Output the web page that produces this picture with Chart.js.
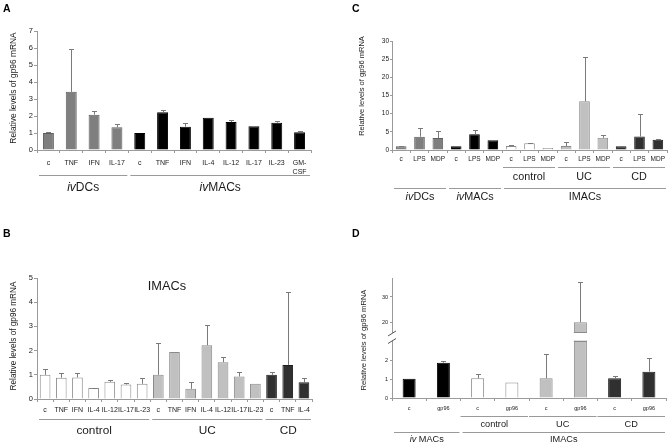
<!DOCTYPE html>
<html>
<head>
<meta charset="utf-8">
<script src="https://cdn.jsdelivr.net/npm/chart.js@4.4.1/dist/chart.umd.min.js"></script>
<style>
html,body{margin:0;padding:0;background:#fff;}
#wrap{position:relative;width:670px;height:445px;overflow:hidden;background:#fff;}
canvas{position:absolute;display:block;}
</style>
</head>
<body>
<div id="wrap">
<canvas id="cA" width="335" height="225" style="left:0;top:0"></canvas>
<canvas id="cC" width="335" height="225" style="left:335px;top:0"></canvas>
<canvas id="cB" width="335" height="220" style="left:0;top:225px"></canvas>
<canvas id="cD" width="335" height="220" style="left:335px;top:225px"></canvas>
</div>
<script>
// ================= DATA =================
// Panel A
const A_ivDCs_labels = ['c', 'TNF', 'IFN', 'IL-17'];
const A_ivDCs_values = [1.0, 3.42, 2.08, 1.34];
const A_ivDCs_err    = [0.06, 2.52, 0.22, 0.17];
const A_ivMACs_labels = ['c', 'TNF', 'IFN', 'IL-4', 'IL-12', 'IL-17', 'IL-23', ['GM-', 'CSF']];
const A_ivMACs_values = [1.0, 2.22, 1.37, 1.9, 1.64, 1.39, 1.6, 1.05];
const A_ivMACs_err    = [0, 0.13, 0.22, 0, 0.12, 0.03, 0.12, 0.08];
const A_yTicks = [0, 1, 2, 3, 4, 5, 6, 7];

// Panel C
const C_cat_labels = ['c', 'LPS', 'MDP'];
const C_ivDCs_values   = [1.0, 3.65, 3.3];
const C_ivDCs_err      = [0.1, 2.45, 2.05];
const C_ivMACs_values  = [1.0, 4.35, 2.7];
const C_ivMACs_err     = [0, 1.2, 0.15];
const C_control_values = [1.1, 1.85, 0.55];
const C_control_err    = [0.25, 0.2, 0];
const C_UC_values      = [1.1, 13.4, 3.35];
const C_UC_err         = [1.15, 12.2, 0.65];
const C_CD_values      = [1.0, 3.7, 2.8];
const C_CD_err         = [0.1, 6.3, 0.2];
const C_yTicks = [0, 5, 10, 15, 20, 25, 30];

// Panel B (IMACs)
const B_control_labels = ['c', 'TNF', 'IFN', 'IL-4', 'IL-12', 'IL-17', 'IL-23'];
const B_control_values = [1.0, 0.88, 0.89, 0.45, 0.71, 0.6, 0.63];
const B_control_err    = [0.25, 0.18, 0.2, 0.02, 0.06, 0.07, 0.22];
const B_UC_labels = ['c', 'TNF', 'IFN', 'IL-4', 'IL-12', 'IL-17', 'IL-23'];
const B_UC_values = [1.0, 1.94, 0.42, 2.22, 1.52, 0.93, 0.63];
const B_UC_err    = [1.3, 0, 0.3, 0.82, 0.23, 0.2, 0];
const B_CD_labels = ['c', 'TNF', 'IL-4'];
const B_CD_values = [1.0, 1.41, 0.69];
const B_CD_err    = [0.13, 3.0, 0.17];
const B_yTicks = [0, 1, 2, 3, 4, 5];

// Panel D
const D_cat_labels = ['c', 'gp96'];
const D_ivMACs_values  = [1.04, 1.9];
const D_ivMACs_err     = [0, 0.1];
const D_control_values = [1.06, 0.83];
const D_control_err    = [0.24, 0];
const D_UC_values      = [1.06, 20];
const D_UC_err         = [1.3, 16];
const D_CD_values      = [1.06, 1.42];
const D_CD_err         = [0.14, 0.73];
const D_yTicks = [0, 1, 2, 20, 30];
// broken axis: lower segment 0..D_lowMax, upper segment D_highMin..D_max
const D_lowMax = 3.1, D_highMin = 15.8, D_max = 37.5;

// ================= STYLE =================
const F = '"Liberation Sans", Arial, Helvetica, sans-serif';
const AX = '#9a9a9a';
const ERR = '#7a7a7a';
const TXT = '#1a1a1a';
const STY = {
  gray:  {bg: '#7f7f7f', bd: '#5e5e5e'},
  black: {bg: '#000000', bd: '#000000'},
  white: {bg: '#ffffff', bd: '#8a8a8a'},
  light: {bg: '#c0c0c0', bd: '#8a8a8a'},
  dark:  {bg: '#303030', bd: '#1e1e1e'}
};

// ================= BROKEN SCALE (panel D) =================
const D_FL = 0.479, D_FH = 0.542;
function dFrac(v) {
  if (v <= D_lowMax) return (v / D_lowMax) * D_FL;
  if (v <= D_highMin) return D_FL + (v - D_lowMax) / (D_highMin - D_lowMax) * (D_FH - D_FL);
  return D_FH + (v - D_highMin) / (D_max - D_highMin) * (1 - D_FH);
}
function dInv(f) {
  if (f <= D_FL) return f / D_FL * D_lowMax;
  if (f <= D_FH) return D_lowMax + (f - D_FL) / (D_FH - D_FL) * (D_highMin - D_lowMax);
  return D_highMin + (f - D_FH) / (1 - D_FH) * (D_max - D_highMin);
}
class BrokenScale extends Chart.LinearScale {
  buildTicks() { return D_yTicks.map(v => ({value: v})); }
  getPixelForValue(v) { return this.bottom - dFrac(v) * (this.bottom - this.top); }
  getValueForPixel(p) { return dInv((this.bottom - p) / (this.bottom - this.top)); }
}
BrokenScale.id = 'broken';
BrokenScale.defaults = Chart.LinearScale.defaults;
Chart.register(BrokenScale);

// ================= HELPERS =================
function drawMixed(c, parts, cx, cy, size) {
  let total = 0;
  const ws = parts.map(p => {
    c.font = (p[1] ? 'italic ' : '') + size + 'px ' + F;
    const w = c.measureText(p[0]).width; total += w; return w;
  });
  let x = cx - total / 2;
  c.textAlign = 'left'; c.textBaseline = 'middle'; c.fillStyle = TXT;
  parts.forEach((p, i) => {
    c.font = (p[1] ? 'italic ' : '') + size + 'px ' + F;
    c.fillText(p[0], x, cy); x += ws[i];
  });
}

function buildPanel(id, P) {
  const canvas = document.getElementById(id);
  const W = canvas.width, H = canvas.height;
  const labels = [], values = [], errs = [], bg = [], bd = [];
  P.series.forEach(s => {
    s.labels.forEach((l, i) => {
      labels.push(l); values.push(s.values[i]); errs.push(s.err[i]);
      bg.push(STY[s.style].bg); bd.push(STY[s.style].bd);
    });
  });
  const extras = {
    id: 'extras_' + id,
    afterDatasetsDraw(chart) {
      const c = chart.ctx, xs = chart.scales.x, ys = chart.scales.y;
      const meta = chart.getDatasetMeta(0);
      c.save();
      if (P.broken) {
        const yTop = ys.getPixelForValue(D_highMin), yBot = ys.getPixelForValue(D_lowMax);
        c.fillStyle = '#ffffff';
        c.fillRect(ys.right - 6, yTop, xs.right - ys.right + 6, yBot - yTop);
        values.forEach((v, i) => {
          if (v > D_highMin) {
            const b = meta.data[i];
            c.strokeStyle = bd[i]; c.lineWidth = 1;
            c.beginPath();
            c.moveTo(b.x - b.width / 2, Math.round(yTop) - 0.5); c.lineTo(b.x + b.width / 2, Math.round(yTop) - 0.5);
            c.moveTo(b.x - b.width / 2, Math.round(yBot) + 0.5); c.lineTo(b.x + b.width / 2, Math.round(yBot) + 0.5);
            c.stroke();
          }
        });
        const ax = ys.right;
        c.strokeStyle = '#555'; c.lineWidth = 1;
        c.beginPath();
        c.moveTo(ax - 4, yTop + 3); c.lineTo(ax + 4, yTop - 2);
        c.moveTo(ax - 4, yBot + 3); c.lineTo(ax + 4, yBot - 2);
        c.stroke();
      }
      c.strokeStyle = ERR; c.lineWidth = 1;
      values.forEach((v, i) => {
        const e = errs[i];
        if (!e) return;
        const b = meta.data[i];
        const x = Math.round(b.x) + 0.5;
        const y0 = ys.getPixelForValue(v);
        const y1 = Math.round(ys.getPixelForValue(v + e)) + 0.5;
        c.beginPath();
        c.moveTo(x, y0); c.lineTo(x, y1);
        c.moveTo(x - P.cap, y1); c.lineTo(x + P.cap, y1);
        c.stroke();
      });
      c.restore();
    },
    afterDraw(chart) {
      const c = chart.ctx, xs = chart.scales.x;
      c.save();
      const half = (xs.getPixelForValue(1) - xs.getPixelForValue(0)) / 2;
      P.rows.forEach(row => {
        row.groups.forEach(g => {
          const x0 = xs.getPixelForValue(g[0]) - half + row.inset[0];
          const x1 = xs.getPixelForValue(g[1]) + half - row.inset[1];
          c.strokeStyle = AX; c.lineWidth = 1;
          c.beginPath(); c.moveTo(x0, row.lineY + 0.5); c.lineTo(x1, row.lineY + 0.5); c.stroke();
          drawMixed(c, g[2], (x0 + x1) / 2, row.textY, row.font);
        });
      });
      c.save();
      c.translate(P.yTitle.x, P.yTitle.y);
      c.rotate(-Math.PI / 2);
      c.font = P.yTitle.size + 'px ' + F;
      c.fillStyle = TXT; c.textAlign = 'center'; c.textBaseline = 'middle';
      c.fillText('Relative levels of gp96 mRNA', 0, 0);
      c.restore();
      c.font = 'bold 10.5px ' + F;
      c.fillStyle = '#000'; c.textAlign = 'left'; c.textBaseline = 'top';
      c.fillText(P.letter, P.letterX, 4);
      if (P.inner) {
        c.font = P.inner.size + 'px ' + F;
        c.textAlign = 'center'; c.textBaseline = 'middle'; c.fillStyle = TXT;
        c.fillText(P.inner.text, P.inner.x, P.inner.y);
      }
      c.restore();
    }
  };
  const yScale = {
    type: P.broken ? 'broken' : 'linear',
    min: P.yTicks[0], max: P.broken ? D_max : P.yTicks[P.yTicks.length - 1],
    afterBuildTicks: P.broken ? undefined : (s) => { s.ticks = P.yTicks.map(v => ({value: v})); },
    ticks: {autoSkip: false, font: {family: F, size: P.yFont}, color: TXT, padding: P.yPad},
    grid: {display: true, drawOnChartArea: false, drawTicks: true, tickLength: P.yTick, color: AX},
    border: {display: true, color: AX},
    afterFit(s) { s.width = P.area.l; }
  };
  return new Chart(canvas, {
    type: 'bar',
    data: {
      labels: labels,
      datasets: [{
        data: values, backgroundColor: bg, borderColor: bd, borderWidth: 1,
        barPercentage: P.barPct, categoryPercentage: 1
      }]
    },
    options: {
      responsive: false, animation: false, events: [],
      layout: {padding: {left: 0, top: P.area.t, right: W - P.area.r, bottom: 0}},
      plugins: {legend: {display: false}, tooltip: {enabled: false}, title: {display: false}},
      scales: {
        x: {
          ticks: {autoSkip: false, maxRotation: 0, minRotation: 0, padding: P.xPad,
                  font: {family: F, size: P.xFont, lineHeight: P.xLh || 1.4}, color: TXT},
          grid: {display: true, drawOnChartArea: false, drawTicks: true, tickLength: 3, color: AX},
          border: {display: true, color: AX},
          afterFit(s) { s.height = H - P.area.b; }
        },
        y: yScale
      }
    },
    plugins: [extras]
  });
}

const IV = (rest) => [['iv', 1], [rest, 0]];
const PL = (t) => [[t, 0]];

// ---------- Panel A ----------
buildPanel('cA', {
  letter: 'A', letterX: 3,
  area: {l: 37, r: 311, t: 31, b: 150},
  series: [
    {labels: A_ivDCs_labels, values: A_ivDCs_values, err: A_ivDCs_err, style: 'gray'},
    {labels: A_ivMACs_labels, values: A_ivMACs_values, err: A_ivMACs_err, style: 'black'}
  ],
  yTicks: A_yTicks, yFont: 7.5, yPad: 1, yTick: 3,
  xFont: 7, xPad: 6, xLh: 1.25, barPct: 0.48, cap: 2.5,
  yTitle: {x: 14, y: 88, size: 8.4},
  rows: [
    {lineY: 175, textY: 188, font: 12, inset: [2, 1],
     groups: [[0, 3, IV('DCs')], [4, 11, IV('MACs')]]}
  ]
});

// ---------- Panel C ----------
buildPanel('cC', {
  letter: 'C', letterX: 17,
  area: {l: 57, r: 332, t: 41, b: 150},
  series: [
    {labels: C_cat_labels, values: C_ivDCs_values, err: C_ivDCs_err, style: 'gray'},
    {labels: C_cat_labels, values: C_ivMACs_values, err: C_ivMACs_err, style: 'black'},
    {labels: C_cat_labels, values: C_control_values, err: C_control_err, style: 'white'},
    {labels: C_cat_labels, values: C_UC_values, err: C_UC_err, style: 'light'},
    {labels: C_cat_labels, values: C_CD_values, err: C_CD_err, style: 'dark'}
  ],
  yTicks: C_yTicks, yFont: 6.5, yPad: 1, yTick: 2,
  xFont: 6.5, xPad: 2, barPct: 0.58, cap: 2.5,
  yTitle: {x: 27, y: 86, size: 7.5},
  rows: [
    {lineY: 167, textY: 177, font: 10.8, inset: [1, 2],
     groups: [[6, 8, PL('control')], [9, 11, PL('UC')], [12, 14, PL('CD')]]},
    {lineY: 188, textY: 197, font: 10.8, inset: [2, 1],
     groups: [[0, 2, IV('DCs')], [3, 5, IV('MACs')], [6, 14, PL('IMACs')]]}
  ]
});

// ---------- Panel B ----------
buildPanel('cB', {
  letter: 'B', letterX: 3,
  area: {l: 37, r: 312, t: 53, b: 174},
  series: [
    {labels: B_control_labels, values: B_control_values, err: B_control_err, style: 'white'},
    {labels: B_UC_labels, values: B_UC_values, err: B_UC_err, style: 'light'},
    {labels: B_CD_labels, values: B_CD_values, err: B_CD_err, style: 'dark'}
  ],
  yTicks: B_yTicks, yFont: 7.5, yPad: 1, yTick: 3,
  xFont: 7, xPad: 3, barPct: 0.66, cap: 2.5,
  yTitle: {x: 14, y: 111, size: 8.2},
  inner: {text: 'IMACs', x: 167, y: 61, size: 12.8},
  rows: [
    {lineY: 194, textY: 206, font: 11.8, inset: [2, 1],
     groups: [[0, 6, PL('control')], [7, 13, PL('UC')], [14, 16, PL('CD')]]}
  ]
});

// ---------- Panel D ----------
buildPanel('cD', {
  letter: 'D', letterX: 17, broken: true,
  area: {l: 57, r: 331, t: 53, b: 173},
  series: [
    {labels: D_cat_labels, values: D_ivMACs_values, err: D_ivMACs_err, style: 'black'},
    {labels: D_cat_labels, values: D_control_values, err: D_control_err, style: 'white'},
    {labels: D_cat_labels, values: D_UC_values, err: D_UC_err, style: 'light'},
    {labels: D_cat_labels, values: D_CD_values, err: D_CD_err, style: 'dark'}
  ],
  yTicks: D_yTicks, yFont: 5.5, yPad: 2, yTick: 2,
  xFont: 5.5, xPad: 4, barPct: 0.38, cap: 2.5,
  yTitle: {x: 29, y: 115, size: 7.6},
  rows: [
    {lineY: 191, textY: 199, font: 9.2, inset: [0, 1],
     groups: [[2, 3, PL('control')], [4, 5, PL('UC')], [6, 7, PL('CD')]]},
    {lineY: 207, textY: 214, font: 9.2, inset: [2, 1],
     groups: [[0, 1, [['iv', 1], [' MACs', 0]]], [2, 7, PL('IMACs')]]}
  ]
});
</script>
</body>
</html>
